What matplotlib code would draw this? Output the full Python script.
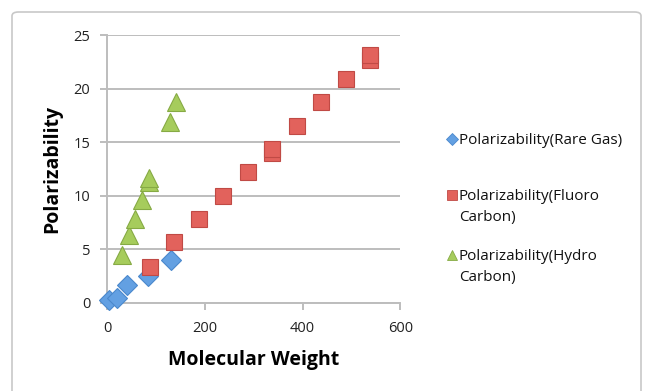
import matplotlib
matplotlib.use("Agg")
import matplotlib.pyplot as plt
from matplotlib.patches import FancyBboxPatch
from matplotlib.lines import Line2D

plt.rcParams['font.family'] = ['Open Sans', 'DejaVu Sans']

rare_mw = [4, 20, 40, 84, 131]
rare_pol = [0.2, 0.4, 1.65, 2.45, 3.95]

fluoro_mw = [88, 138, 188, 238, 288, 338, 338, 388, 438, 488, 538, 538]
fluoro_pol = [3.3, 5.7, 7.85, 9.95, 12.2, 14.0, 14.3, 16.5, 18.7, 20.9, 22.7, 23.1]

hydro_mw = [30, 44, 58, 72, 86, 86, 128, 142]
hydro_pol = [4.45, 6.3, 7.85, 9.6, 11.3, 11.6, 16.9, 18.7]

labels = ["Polarizability(Rare Gas)", "Polarizability(Fluoro\nCarbon)", "Polarizability(Hydro\nCarbon)"]
xticks = [0, 200, 400, 600]
yticks = [0, 5, 10, 15, 20, 25]

W, H = 648, 391
fig = plt.figure(figsize=(W/100, H/100), dpi=100)
fig.patch.set_facecolor('white')
frame = FancyBboxPatch((12/W, -0.05), 629/W, 1.05 - 12/H, boxstyle="round,pad=0,rounding_size=0.01",
                       transform=fig.transFigure, facecolor='none', edgecolor='#c8c8c8', linewidth=1.2, zorder=-1)
fig.patches.append(frame)

ax = fig.add_axes([107/W, 1 - 302.5/H, 293.3/W, 267.5/H])
ax.patch.set_alpha(0)
ax.set_xlim(0, 600)
ax.set_ylim(0, 25)
ax.set_xticks(xticks)
ax.set_yticks(yticks)
ax.grid(axis='y', color='#bdbdbd', linewidth=1.4)
ax.set_axisbelow(True)
for s in ['top', 'right']:
    ax.spines[s].set_visible(False)
ax.spines['left'].set_color('#bdbdbd')
ax.spines['bottom'].set_color('#bdbdbd')
ax.spines['left'].set_linewidth(1.4)
ax.spines['bottom'].set_linewidth(1.4)
ax.tick_params(axis='both', colors='#bdbdbd', labelcolor='#222222', labelsize=10.5, length=5, width=1.4)
ax.tick_params(axis='y', pad=7)
ax.tick_params(axis='x', pad=8)

styles = [
    dict(marker='D', markersize=10.5, color='#63a0e2', markeredgecolor='#4a88cc'),
    dict(marker='s', markersize=12, color='#e2625c', markeredgecolor='#c04a45'),
    dict(marker='^', markersize=12.5, color='#a6cc5c', markeredgecolor='#86aa44'),
]
kw = dict(linestyle='none', clip_on=False, zorder=3, markeredgewidth=0.8)
ax.plot(rare_mw, rare_pol, label=labels[0], **styles[0], **kw)
ax.plot(fluoro_mw, fluoro_pol, label=labels[1], **styles[1], **kw)
ax.plot(hydro_mw, hydro_pol, label=labels[2], **styles[2], **kw)

ax.set_xlabel("Molecular Weight", fontsize=14, fontweight='bold', va='center')
ax.set_ylabel("Polarizability", fontsize=14, fontweight='bold', va='center')
ax.xaxis.set_label_coords(253.5/W, 1 - 360/H, transform=fig.transFigure)
ax.yaxis.set_label_coords(52/W, 1 - 168.5/H, transform=fig.transFigure)

# legend (manual layout to match the wrapped labels)
leg_y = [139, 195, 255]
for lab, st, yy in zip(labels, styles, leg_y):
    s = dict(st)
    s['markersize'] = s['markersize'] * 0.62
    fig.add_artist(Line2D([452/W], [1 - yy/H], transform=fig.transFigure, linestyle='none',
                          markeredgewidth=0.6, **s))
    for i, line in enumerate(lab.split("\n")):
        fig.text(459/W, 1 - (yy + 5 + 21 * i)/H, line, fontsize=11, va='baseline', ha='left', color='#111111')

fig.savefig("out.png", dpi=100)
